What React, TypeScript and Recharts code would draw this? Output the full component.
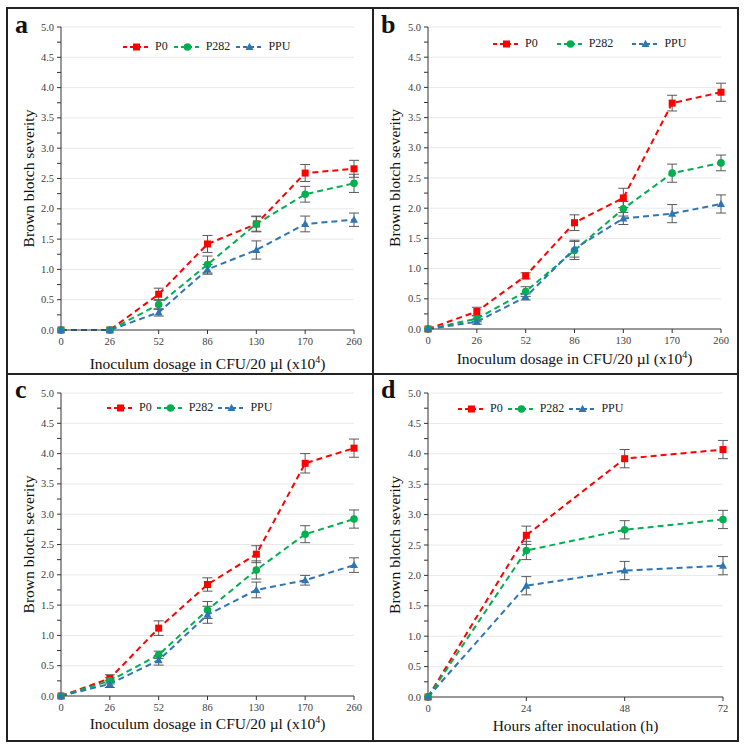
import React from 'react';
import { LineChart, Line, XAxis, YAxis, ErrorBar, Legend, ReferenceLine } from 'recharts';

// x categories
const DOSES = ['0', '26', '52', '86', '130', '170', '260'];
const HOURS = ['0', '24', '48', '72'];

// panel a
const A_P0 = [0, 0, 0.59, 1.42, 1.75, 2.59, 2.66];
const A_P0_ERR = [0, 0, 0.1, 0.14, 0.13, 0.14, 0.14];
const A_P282 = [0, 0, 0.42, 1.08, 1.75, 2.24, 2.42];
const A_P282_ERR = [0, 0, 0.08, 0.14, 0.12, 0.13, 0.15];
const A_PPU = [0, 0, 0.29, 1.0, 1.32, 1.75, 1.82];
const A_PPU_ERR = [0, 0, 0.06, 0.08, 0.15, 0.13, 0.11];

// panel b
const B_P0 = [0, 0.29, 0.88, 1.76, 2.17, 3.74, 3.92];
const B_P0_ERR = [0, 0.07, 0.05, 0.13, 0.16, 0.13, 0.15];
const B_P282 = [0, 0.17, 0.62, 1.3, 1.99, 2.58, 2.75];
const B_P282_ERR = [0, 0.05, 0.08, 0.15, 0.12, 0.15, 0.13];
const B_PPU = [0, 0.12, 0.53, 1.33, 1.83, 1.91, 2.07];
const B_PPU_ERR = [0, 0.04, 0.05, 0.14, 0.1, 0.15, 0.15];

// panel c
const C_P0 = [0, 0.29, 1.12, 1.84, 2.34, 3.84, 4.09];
const C_P0_ERR = [0, 0.06, 0.12, 0.11, 0.14, 0.16, 0.15];
const C_P282 = [0, 0.25, 0.68, 1.42, 2.08, 2.67, 2.92];
const C_P282_ERR = [0, 0.05, 0.06, 0.14, 0.15, 0.14, 0.15];
const C_PPU = [0, 0.2, 0.59, 1.34, 1.75, 1.91, 2.16];
const C_PPU_ERR = [0, 0.06, 0.08, 0.14, 0.13, 0.08, 0.12];

// panel d
const D_P0 = [0, 2.66, 3.92, 4.07];
const D_P0_ERR = [0, 0.15, 0.15, 0.15];
const D_P282 = [0, 2.41, 2.75, 2.92];
const D_P282_ERR = [0, 0.15, 0.15, 0.15];
const D_PPU = [0, 1.83, 2.08, 2.16];
const D_PPU_ERR = [0, 0.15, 0.15, 0.15];

const Y_TICKS = Array.from({ length: 21 }, (_, i) => i * 0.25);
const GRID_VALUES = [0.5, 1, 1.5, 2, 2.5, 3, 3.5, 4, 4.5, 5];

const FONT = '"Liberation Serif", "Times New Roman", serif';
const RED = '#FF0000';
const GREEN = '#00B050';
const BLUE = '#2E75B6';
const ERR_COLOR = '#595959';
const AXIS_COLOR = '#333333';

const SHAPES: Record<string, string> = { P0: 'square', P282: 'circle', PPU: 'triangle' };

const Marker = ({ cx, cy, color, shape }: any) => {
  if (cx == null || cy == null) return null;
  if (shape === 'square') return <rect x={cx - 3.5} y={cy - 3.5} width={7} height={7} fill={color} />;
  if (shape === 'circle') return <circle cx={cx} cy={cy} r={3.8} fill={color} />;
  return <polygon points={`${cx},${cy - 4.2} ${cx + 4},${cy + 3} ${cx - 4},${cy + 3}`} fill={color} />;
};

const makeDot = (color: string, shape: string) => (props: any) => (
  <Marker key={`dot-${props.index}`} cx={props.cx} cy={props.cy} color={color} shape={shape} />
);

const LegendContent = ({ payload, gap }: any) => (
  <div style={{ display: 'flex', alignItems: 'center', fontFamily: FONT, fontSize: 12, color: '#222', whiteSpace: 'nowrap' }}>
    {(payload || []).map((item: any, i: number) => (
      <div key={item.value} style={{ display: 'flex', alignItems: 'center', marginLeft: i === 0 ? 0 : gap }}>
        <svg width={27} height={12}>
          <line x1={0} y1={6} x2={27} y2={6} stroke={item.color} strokeWidth={2} strokeDasharray="4 3" />
          <Marker cx={13.5} cy={6} color={item.color} shape={SHAPES[item.value]} />
        </svg>
        <span style={{ marginLeft: 5 }}>{item.value}</span>
      </div>
    ))}
  </div>
);

const YTick = ({ x, y, payload }: any) => {
  const v = payload.value;
  if (Math.abs(v * 2 - Math.round(v * 2)) > 1e-6) return <g />;
  return (
    <text x={x} y={y} dy={3.5} textAnchor="end" fontFamily={FONT} fontSize={10.5} fill="#404040">
      {v.toFixed(1)}
    </text>
  );
};

const XTick = ({ x, y, payload }: any) => (
  <text x={x} y={y} dy={9} textAnchor="middle" fontFamily={FONT} fontSize={10.5} fill="#404040">
    {payload.value}
  </text>
);

type PanelProps = {
  letter: string;
  left: number;
  top: number;
  cats: string[];
  p0: number[];
  p0e: number[];
  p282: number[];
  p282e: number[];
  ppu: number[];
  ppue: number[];
  xTitle: string;
  xSup?: string;
  margin: { top: number; right: number };
  yWidth: number;
  xHeight: number;
  titleDy: number;
  legendLeft: number;
  legendTop: number;
  legendGap: number;
};

const Panel = (p: PanelProps) => {
  const data = p.cats.map((c, i) => ({
    x: c,
    p0: p.p0[i],
    p0e: p.p0e[i],
    p282: p.p282[i],
    p282e: p.p282e[i],
    ppu: p.ppu[i],
    ppue: p.ppue[i],
  }));

  return (
    <div style={{ position: 'absolute', left: p.left, top: p.top, width: 366, height: 367 }}>
      <LineChart
        width={366}
        height={367}
        data={data}
        margin={{ top: p.margin.top, right: p.margin.right, bottom: 0, left: 0 }}
      >
        {GRID_VALUES.map((v) => (
          <ReferenceLine key={v} y={v} stroke="#E8E8E8" strokeWidth={1} />
        ))}
        <XAxis
          dataKey="x"
          height={p.xHeight}
          stroke={AXIS_COLOR}
          tickSize={4}
          tick={<XTick />}
          interval={0}
          label={(lp: any) => {
            const vb = lp.viewBox;
            return (
              <text
                x={vb.x + vb.width / 2}
                y={vb.y + p.titleDy}
                textAnchor="middle"
                fontFamily={FONT}
                fontSize={15.5}
                fill="#111"
              >
                {p.xTitle}
                {p.xSup && (
                  <>
                    <tspan dy={-6} fontSize={10}>{p.xSup}</tspan>
                    <tspan dy={6}>)</tspan>
                  </>
                )}
              </text>
            );
          }}
        />
        <YAxis
          domain={[0, 5]}
          ticks={Y_TICKS}
          interval={0}
          width={p.yWidth}
          stroke={AXIS_COLOR}
          tickSize={4}
          tickMargin={3}
          tick={<YTick />}
          label={(lp: any) => {
            const vb = lp.viewBox;
            const cx = vb.x + 22;
            const cy = vb.y + vb.height / 2;
            return (
              <text
                x={cx}
                y={cy}
                dy="0.35em"
                transform={`rotate(-90 ${cx} ${cy})`}
                textAnchor="middle"
                fontFamily={FONT}
                fontSize={15.5}
                fill="#111"
              >
                Brown blotch severity
              </text>
            );
          }}
        />
        <Legend
          layout="horizontal"
          verticalAlign="middle"
          align="center"
          wrapperStyle={{ position: 'absolute', left: p.legendLeft, top: p.legendTop, width: 'auto' }}
          content={(lp: any) => <LegendContent {...lp} gap={p.legendGap} />}
        />
        <Line
          dataKey="p0"
          name="P0"
          stroke={RED}
          strokeWidth={2}
          strokeDasharray="6 4"
          dot={makeDot(RED, 'square')}
          activeDot={false}
          isAnimationActive={false}
        >
          <ErrorBar dataKey="p0e" width={5} stroke={ERR_COLOR} strokeWidth={1} direction="y" isAnimationActive={false} />
        </Line>
        <Line
          dataKey="p282"
          name="P282"
          stroke={GREEN}
          strokeWidth={2}
          strokeDasharray="6 4"
          dot={makeDot(GREEN, 'circle')}
          activeDot={false}
          isAnimationActive={false}
        >
          <ErrorBar dataKey="p282e" width={5} stroke={ERR_COLOR} strokeWidth={1} direction="y" isAnimationActive={false} />
        </Line>
        <Line
          dataKey="ppu"
          name="PPU"
          stroke={BLUE}
          strokeWidth={2}
          strokeDasharray="6 4"
          dot={makeDot(BLUE, 'triangle')}
          activeDot={false}
          isAnimationActive={false}
        >
          <ErrorBar dataKey="ppue" width={5} stroke={ERR_COLOR} strokeWidth={1} direction="y" isAnimationActive={false} />
        </Line>
      </LineChart>
      <div
        style={{
          position: 'absolute',
          left: p.letter === 'a' || p.letter === 'c' ? 8 : 8,
          top: p.letter === 'a' || p.letter === 'b' ? 3 : 1,
          fontFamily: FONT,
          fontWeight: 'bold',
          fontSize: 26,
          lineHeight: '30px',
          color: '#111',
        }}
      >
        {p.letter}
      </div>
    </div>
  );
};

const DOSE_TITLE = 'Inoculum dosage in CFU/20 µl (x10';

export default function App() {
  return (
    <div style={{ position: 'absolute', left: 0, top: 0, width: 745, height: 748, background: '#fff' }}>
      <div
        style={{
          position: 'absolute',
          left: 6,
          top: 7,
          width: 733,
          height: 735,
          border: '2px solid #222',
          boxSizing: 'border-box',
        }}
      />
      <div style={{ position: 'absolute', left: 372, top: 7, width: 2, height: 735, background: '#222' }} />
      <div style={{ position: 'absolute', left: 6, top: 373, width: 733, height: 2, background: '#222' }} />

      <Panel
        letter="a"
        left={7}
        top={7}
        cats={DOSES}
        p0={A_P0}
        p0e={A_P0_ERR}
        p282={A_P282}
        p282e={A_P282_ERR}
        ppu={A_PPU}
        ppue={A_PPU_ERR}
        xTitle={DOSE_TITLE}
        xSup="4"
        margin={{ top: 20, right: 19 }}
        yWidth={54}
        xHeight={44}
        titleDy={39}
        legendLeft={116}
        legendTop={32}
        legendGap={6}
      />
      <Panel
        letter="b"
        left={373}
        top={7}
        cats={DOSES}
        p0={B_P0}
        p0e={B_P0_ERR}
        p282={B_P282}
        p282e={B_P282_ERR}
        ppu={B_PPU}
        ppue={B_PPU_ERR}
        xTitle={DOSE_TITLE}
        xSup="4"
        margin={{ top: 20, right: 18 }}
        yWidth={55}
        xHeight={45}
        titleDy={35}
        legendLeft={120}
        legendTop={29}
        legendGap={19}
      />
      <Panel
        letter="c"
        left={7}
        top={374}
        cats={DOSES}
        p0={C_P0}
        p0e={C_P0_ERR}
        p282={C_P282}
        p282e={C_P282_ERR}
        ppu={C_PPU}
        ppue={C_PPU_ERR}
        xTitle={DOSE_TITLE}
        xSup="4"
        margin={{ top: 19, right: 19 }}
        yWidth={54}
        xHeight={45}
        titleDy={33}
        legendLeft={100}
        legendTop={26}
        legendGap={5}
      />
      <Panel
        letter="d"
        left={373}
        top={374}
        cats={HOURS}
        p0={D_P0}
        p0e={D_P0_ERR}
        p282={D_P282}
        p282e={D_P282_ERR}
        ppu={D_PPU}
        ppue={D_PPU_ERR}
        xTitle="Hours after inoculation (h)"
        margin={{ top: 19, right: 16 }}
        yWidth={55}
        xHeight={44}
        titleDy={34}
        legendLeft={85}
        legendTop={27}
        legendGap={5}
      />
    </div>
  );
}
